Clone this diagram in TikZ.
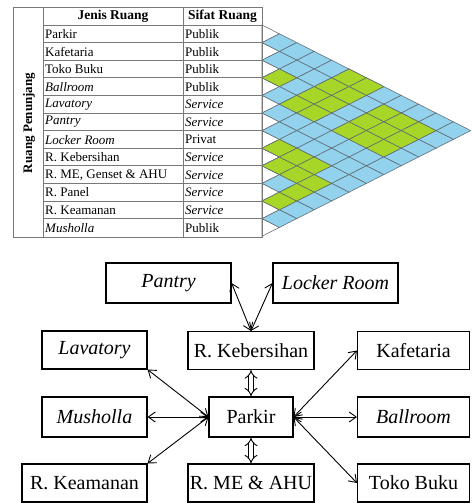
\documentclass[tikz,border=0pt]{standalone}
\usepackage{fontspec}
\setmainfont{Liberation Serif}
\usetikzlibrary{arrows.meta}
\definecolor{cyanc}{RGB}{146,210,236}
\definecolor{greenc}{RGB}{168,214,40}
\definecolor{gridc}{RGB}{95,105,115}
\definecolor{tabc}{RGB}{120,120,120}
\tikzset{
  cellline/.style={draw=gridc, line width=0.55pt},
  tabline/.style={draw=tabc, line width=0.7pt},
  ttext/.style={inner sep=0pt, anchor=west, font=\fontsize{13}{15}\selectfont},
  thead/.style={inner sep=0pt, font=\fontsize{13.5}{15}\bfseries},
  box/.style={draw, line width=1.1pt, inner sep=0pt, font=\fontsize{20}{24}\selectfont},
  dbl/.style={{Straight Barb[length=7pt,width=10pt]}-{Straight Barb[length=7pt,width=10pt]}, line width=0.9pt},
  dd/.style={double, double distance=3.6pt, line width=0.9pt, {Implies}-{Implies}}
}
\begin{document}
\begin{tikzpicture}[x=1pt,y=-1pt]
\useasboundingbox (0,0) rectangle (471,503);
% ---------- matrix triangle ----------
\foreach \r in {0,...,11}{
  \draw[cellline, fill=white] (262,{25+17.6*\r}) -- (279.4,{33.8+17.6*\r}) -- (262,{42.6+17.6*\r}) -- cycle;
}
\foreach \i in {0,...,10}{
  \pgfmathtruncatemacro\js{\i+1}
  \foreach \j in {\js,...,11}{
    \pgfmathsetmacro\cx{262+17.4*(\j-\i)}
    \pgfmathsetmacro\cy{25+8.8*(\i+\j+1)}
    \draw[cellline, fill=cyanc] (\cx-17.4,\cy) -- (\cx,\cy-8.8) -- (\cx+17.4,\cy) -- (\cx,\cy+8.8) -- cycle;
  }
}
\foreach \i/\j in {2/3,6/7,7/8,9/10,6/8,6/9,7/9,7/10,8/10,0/5,1/5,2/5,3/5,0/6,1/6,2/6,3/6,1/8,1/9,1/10,2/8,2/9,2/10,3/8,3/9,3/10}{
    \pgfmathsetmacro\cx{262+17.4*(\j-\i)}
    \pgfmathsetmacro\cy{25+8.8*(\i+\j+1)}
    \draw[cellline, fill=greenc] (\cx-17.4,\cy) -- (\cx,\cy-8.8) -- (\cx+17.4,\cy) -- (\cx,\cy+8.8) -- cycle;
}
% ---------- table ----------
\draw[tabline] (13,7) rectangle (262,237);
\draw[tabline] (43,7) -- (43,237);
\draw[tabline] (183,7) -- (183,237);
\foreach \r in {0,...,11}{
  \draw[tabline] (43,{25+17.6*\r}) -- (262,{25+17.6*\r});
}
\node[thead, rotate=90, font=\fontsize{13}{15}\bfseries] (rp) at (29,123) {Ruang Penunjang};
\node[thead] (hj) at (113,16) {Jenis Ruang};
\node[thead] (hs) at (222.5,16) {Sifat Ruang};
\foreach \n/\a/\b [count=\r from 0] in {
  Parkir/Publik/Publik,
  Kafetaria/Publik/Publik,
  Toko Buku/Publik/Publik,
  \textit{Ballroom}/Publik/Publik,
  \textit{Lavatory}/\textit{Service}/S,
  \textit{Pantry}/\textit{Service}/S,
  \textit{Locker Room}/Privat/P,
  R. Kebersihan/\textit{Service}/S,
  {R. ME, Genset \& AHU}/\textit{Service}/S,
  R. Panel/\textit{Service}/S,
  R. Keamanan/\textit{Service}/S,
  \textit{Musholla}/Publik/P}{
  \node[ttext] (jn\r) at (45,{34+17.6*\r}) {\n};
  \node[ttext] (sf\r) at (185,{34+17.6*\r}) {\a};
}
% ---------- bubble diagram ----------
\node[box, minimum width=125pt, minimum height=40pt] (pantry) at (168.5,283) {\textit{Pantry}};
\node[box, minimum width=125pt, minimum height=40pt] (locker) at (335.5,283) {\textit{Locker Room}};
\node[box, minimum width=105pt, minimum height=38pt] (lav) at (94.5,350) {\textit{Lavatory}};
\node[box, minimum width=126pt, minimum height=38pt] (keb) at (251,350.5) {R. Kebersihan};
\node[box, minimum width=112pt, minimum height=38pt] (kaf) at (413.5,350.5) {Kafetaria};
\node[box, minimum width=105pt, minimum height=40pt] (mus) at (94.5,417) {\textit{Musholla}};
\node[box, minimum width=84pt, minimum height=40pt] (park) at (251,417) {Parkir};
\node[box, minimum width=112pt, minimum height=40pt] (ball) at (413.5,417) {\textit{Ballroom}};
\node[box, minimum width=125pt, minimum height=38pt] (keam) at (84.5,483) {R. Keamanan};
\node[box, minimum width=126pt, minimum height=38pt] (me) at (251,483) {R. ME \& AHU};
\node[box, minimum width=112pt, minimum height=38pt] (toko) at (413.5,483) {Toko Buku};
\draw[dbl] (pantry.east) -- (keb.north);
\draw[dbl] (locker.west) -- (keb.north);
\draw[dd] (keb.south) -- (park.north);
\draw[dd] (park.south) -- (me.north);
\draw[dbl] (lav.south east) -- (park.west);
\draw[dbl] (mus.east) -- (park.west);
\draw[dbl] (keam.north east) -- (park.west);
\draw[dbl] (park.east) -- (kaf.west);
\draw[dbl] (park.east) -- (ball.west);
\draw[dbl] (park.east) -- (toko.west);
\end{tikzpicture}
\end{document}
